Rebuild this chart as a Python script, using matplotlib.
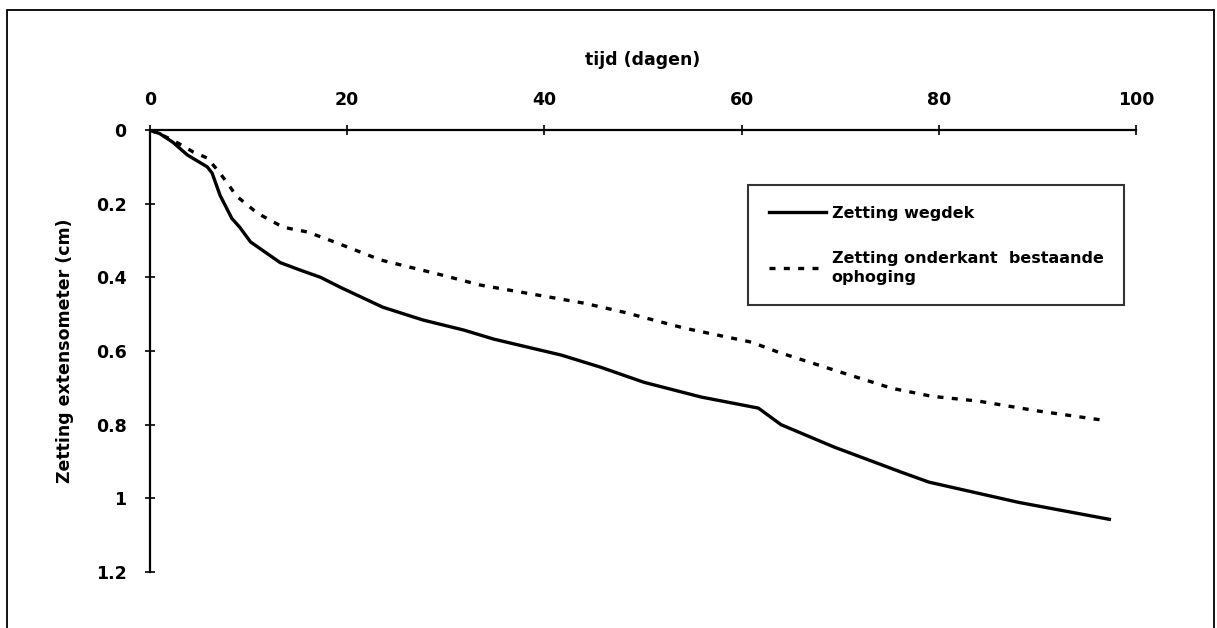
import matplotlib
matplotlib.use("Agg")
import matplotlib.pyplot as plt
from matplotlib.patches import Rectangle

plt.rcParams['font.family'] = ['DejaVu Sans']

# Data
wegdek_days = [0, 1, 2.3, 3.8, 5.8, 6.3, 7.1, 8.3, 9.1, 10.2, 13.2, 15.2, 17.3, 19.3,
               23.6, 27.7, 31.8, 34.9, 41.7, 45.7, 50.1, 55.9, 61.7, 64.0, 69.4,
               76.2, 79.0, 88.1, 97.3]
wegdek_zet = [0, 0.01, 0.033, 0.068, 0.10, 0.117, 0.177, 0.24, 0.264, 0.304, 0.36, 0.38,
              0.40, 0.427, 0.481, 0.516, 0.543, 0.568, 0.611, 0.644, 0.685, 0.725,
              0.755, 0.80, 0.861, 0.929, 0.956, 1.011, 1.057]

onder_days = [0, 2.3, 4.4, 5.8, 7.1, 8.8, 10.9, 13.5, 16.0, 19.0, 23.4, 29.2, 33.5,
              39.3, 44.0, 48.1, 54.2, 61.0, 63.7, 69.4, 75.2, 79.3, 84.0, 90.1, 96.7]
onder_zet = [0, 0.027, 0.06, 0.076, 0.117, 0.18, 0.226, 0.264, 0.277, 0.307, 0.353,
             0.391, 0.421, 0.448, 0.47, 0.495, 0.538, 0.576, 0.603, 0.652, 0.701,
             0.723, 0.736, 0.763, 0.788]

x_ticks = [0, 20, 40, 60, 80, 100]
y_ticks = [0, 0.2, 0.4, 0.6, 0.8, 1.0, 1.2]
y_ticklabels = ['0', '0.2', '0.4', '0.6', '0.8', '1', '1.2']

labels = ['Zetting wegdek', 'Zetting onderkant  bestaande\nophoging']

FS = 12.5

fig = plt.figure(figsize=(12.17, 6.28), dpi=100)
ax = fig.add_axes([150/1217, 1-572/628, (1136-150)/1217, (572-130)/628])

ax.plot(wegdek_days, wegdek_zet, color='black', lw=2.4, label=labels[0])
ax.plot(onder_days, onder_zet, color='black', lw=2.4, linestyle=(0, (1.8, 2.5)),
        label=labels[1])

ax.set_xlim(0, 100)
ax.set_ylim(1.2, 0)
ax.xaxis.tick_top()
ax.xaxis.set_label_position('top')
ax.set_xticks(x_ticks)
ax.set_xticklabels([str(v) for v in x_ticks])
ax.set_yticks(y_ticks)
ax.set_yticklabels(y_ticklabels)

for s in ['right', 'bottom']:
    ax.spines[s].set_visible(False)
for s in ['left', 'top']:
    ax.spines[s].set_linewidth(1.6)

ax.tick_params(axis='x', direction='inout', length=7, width=1.2, pad=11.5,
               labelsize=FS)
ax.tick_params(axis='y', direction='inout', length=7, width=1.2, pad=13.5,
               labelsize=FS)
for lab in ax.get_xticklabels() + ax.get_yticklabels():
    lab.set_fontweight('bold')

ax.set_xlabel('tijd (dagen)', fontsize=FS, fontweight='bold')
ax.xaxis.set_label_coords(0.5, 1 + (130 - 60) / 442)
ax.xaxis.label.set_verticalalignment('center')
ax.set_ylabel('Zetting extensometer (cm)', fontsize=FS, fontweight='bold')
ax.yaxis.set_label_coords((65 - 150) / 986, 0.5)
ax.yaxis.label.set_verticalalignment('center')
ax.yaxis.label.set_horizontalalignment('center')

leg = ax.legend(loc='upper left', bbox_to_anchor=((748-150)/986, 1-(185-130)/442),
                frameon=True, fancybox=False, edgecolor='black', fontsize=11.5,
                handlelength=3.6, handletextpad=0.35, labelspacing=1.9,
                borderpad=1.3, borderaxespad=0)
leg.get_frame().set_linewidth(1.5)
for t in leg.get_texts():
    t.set_fontweight('bold')
    t.set_linespacing(1.3)

fig.patches.append(Rectangle((7/1217, -0.05), (1214-7)/1217, 1-10/628+0.05,
                             transform=fig.transFigure, fill=False,
                             edgecolor='black', lw=1.3))

fig.savefig('out.png', dpi=100)
